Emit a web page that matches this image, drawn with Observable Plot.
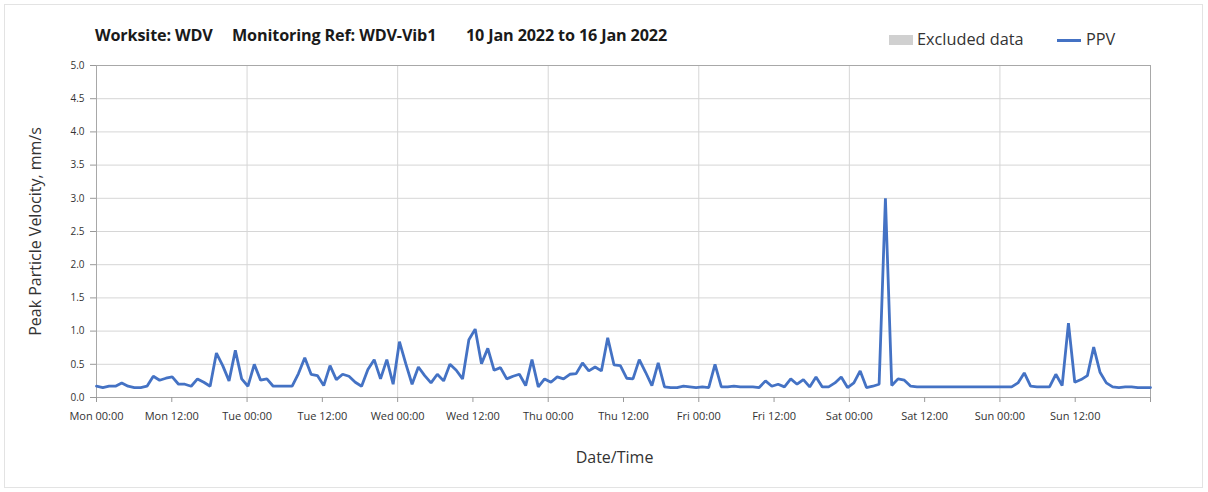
<!DOCTYPE html>
<html>
<head>
<meta charset="utf-8">
<script src="https://cdn.jsdelivr.net/npm/d3@7"></script>
<script src="https://cdn.jsdelivr.net/npm/@observablehq/plot@0.6"></script>
<style>
  html, body { margin: 0; padding: 0; background: #fff; }
  #wrap { position: relative; width: 1208px; height: 492px; overflow: hidden; background: #fff; font-family: "Open Sans", sans-serif; color: #262626; }
  #border { position: absolute; left: 4px; top: 4px; width: 1199px; height: 484px; border: 1px solid #e3e3e3; box-sizing: border-box; pointer-events: none; }
  #header { position: relative; height: 55px; }
  .tt { position: absolute; top: 24px; font-family: "Open Sans", sans-serif; font-weight: 700; font-size: 16.2px; letter-spacing: -0.15px; white-space: pre; color: #1a1a1a; }
  .lg { position: absolute; top: 28px; font-size: 16.3px; color: #333; white-space: pre; }
  #sw1 { position: absolute; left: 889px; top: 35px; width: 24px; height: 10px; background: #d0d0d0; }
  #sw2 { position: absolute; left: 1057px; top: 39px; width: 24px; height: 3px; background: #4472c4; }
</style>
</head>
<body>
<div id="wrap">
  <div id="header">
    <div class="tt" id="t0" style="left:95px"></div>
    <div class="tt" id="t1" style="left:232px"></div>
    <div class="tt" id="t2" style="left:466px"></div>
    <div id="sw1"></div><div class="lg" id="lg1" style="left:917px"></div>
    <div id="sw2"></div><div class="lg" id="lg2" style="left:1086px"></div>
  </div>
  <div id="chart"></div>
  <div id="border"></div>
</div>
<script>
const titleParts = ["Worksite: WDV", "Monitoring Ref: WDV-Vib1", "10 Jan 2022 to 16 Jan 2022"];
const legendLabels = ["Excluded data", "PPV"];
const xAxisTitle = "Date/Time";
const yAxisTitle = "Peak Particle Velocity, mm/s";

// PPV readings (mm/s), 168 readings spread over Mon 10 Jan 2022 00:00 – Mon 17 Jan 00:00
const ppv = [
  0.17,0.15,0.17,0.17,0.22,0.17,0.15,0.15,0.17,0.32,0.26,0.29,
  0.31,0.20,0.20,0.17,0.28,0.23,0.17,0.67,0.48,0.25,0.71,0.28,
  0.17,0.50,0.26,0.28,0.17,0.17,0.17,0.17,0.36,0.60,0.35,0.33,
  0.18,0.48,0.27,0.35,0.32,0.23,0.17,0.42,0.57,0.28,0.57,0.20,
  0.84,0.51,0.20,0.46,0.33,0.22,0.35,0.25,0.50,0.41,0.28,0.87,
  1.03,0.51,0.74,0.41,0.45,0.28,0.32,0.35,0.18,0.57,0.16,0.28,
  0.23,0.31,0.28,0.35,0.36,0.52,0.40,0.46,0.40,0.90,0.49,0.48,
  0.29,0.28,0.57,0.38,0.18,0.52,0.16,0.15,0.15,0.17,0.16,0.15,
  0.16,0.15,0.50,0.16,0.16,0.17,0.16,0.16,0.16,0.15,0.25,0.17,
  0.20,0.16,0.28,0.20,0.27,0.16,0.31,0.16,0.16,0.22,0.31,0.15,
  0.22,0.40,0.15,0.17,0.20,3.00,0.18,0.28,0.26,0.17,0.16,0.16,
  0.16,0.16,0.16,0.16,0.16,0.16,0.16,0.16,0.16,0.16,0.16,0.16,
  0.16,0.16,0.22,0.37,0.17,0.16,0.16,0.16,0.35,0.18,1.12,0.23,
  0.27,0.33,0.76,0.38,0.22,0.16,0.15,0.16,0.16,0.15,0.15,0.15
];

const xTickLabels = [
  "Mon 00:00","Mon 12:00","Tue 00:00","Tue 12:00","Wed 00:00","Wed 12:00",
  "Thu 00:00","Thu 12:00","Fri 00:00","Fri 12:00","Sat 00:00","Sat 12:00",
  "Sun 00:00","Sun 12:00",""
];
const yTickValues = [0,0.5,1,1.5,2,2.5,3,3.5,4,4.5,5];

const HOUR = 3600e3;
const WEEK = 168 * HOUR;
const start = Date.UTC(2022, 0, 10);
const step = WEEK / (ppv.length - 1);
const data = ppv.map((v, i) => ({t: new Date(start + i * step), v}));
const xTicks = xTickLabels.map((_, i) => new Date(start + i * 12 * HOUR));
const dayTicks = xTicks.filter((_, i) => i % 2 === 0 && i > 0 && i < 14);
const labelFor = d => xTickLabels[Math.round((+d - start) / (12 * HOUR))];

titleParts.forEach((s, i) => { document.getElementById("t" + i).textContent = s; });
document.getElementById("lg1").textContent = legendLabels[0];
document.getElementById("lg2").textContent = legendLabels[1];

const chart = Plot.plot({
  width: 1208,
  height: 437,
  marginLeft: 96,
  marginRight: 58,
  marginTop: 10,
  marginBottom: 95,
  style: {fontFamily: "Open Sans, sans-serif", color: "#333", background: "transparent", overflow: "visible"},
  x: {type: "utc", domain: [new Date(start), new Date(start + WEEK)]},
  y: {domain: [0, 5]},
  marks: [
    Plot.gridY(yTickValues, {stroke: "#d6d6d6", strokeOpacity: 1}),
    Plot.gridX(dayTicks, {stroke: "#d6d6d6", strokeOpacity: 1}),
    Plot.frame({stroke: "#a8a8a8"}),
    Plot.axisY(yTickValues, {tickFormat: d3.format(".1f"), tickSize: 6, tickPadding: 6, fontSize: 10, stroke: "#999", fill: "#333", label: null}),
    Plot.axisX(xTicks, {tickFormat: labelFor, tickSize: 5, tickPadding: 10, fontSize: 11, stroke: "#999", fill: "#333", label: null}),
    Plot.lineY(data, {x: "t", y: "v", stroke: "#4472c4", strokeWidth: 2.8, strokeLinejoin: "miter"}),
    Plot.text([yAxisTitle], {frameAnchor: "left", textAnchor: "middle", dx: -61, rotate: -90, fontSize: 16, fill: "#333"}),
    Plot.text([xAxisTitle], {frameAnchor: "bottom", dy: 65, dx: -9, fontSize: 16, fill: "#333"})
  ]
});
document.getElementById("chart").appendChild(chart);
</script>
</body>
</html>
